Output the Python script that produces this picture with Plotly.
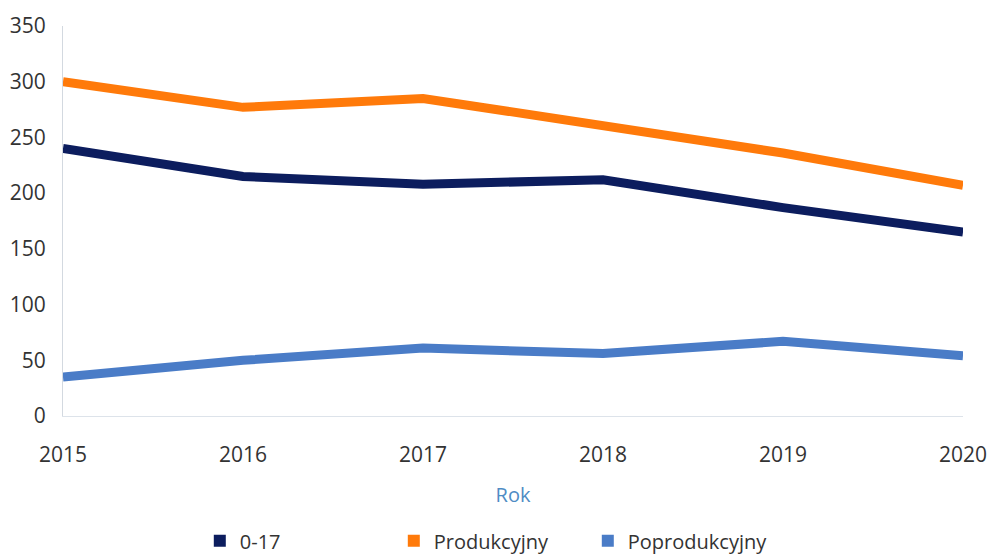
import plotly.graph_objects as go

years = [2015, 2016, 2017, 2018, 2019, 2020]
s_0_17 = [240, 215, 208, 212, 187, 165]
s_prod = [300, 277, 285, 261, 236, 207]
s_poprod = [35, 50, 61, 56, 67, 54]
names = ["0-17", "Produkcyjny", "Poprodukcyjny"]
colors = ["#0c1d5e", "#ff7a0a", "#4a7cc7"]
y_ticks = [0, 50, 100, 150, 200, 250, 300, 350]

fig = go.Figure()
for vals, name, col in zip([s_0_17, s_prod, s_poprod], names, colors):
    fig.add_trace(go.Scatter(x=years, y=vals, mode="lines", name=name,
                             line=dict(color=col, width=9), showlegend=False))
for name, col in zip(names, colors):
    fig.add_trace(go.Scatter(x=[None], y=[None], mode="markers", name=name,
                             marker=dict(symbol="square", size=12, color=col)))

fig.update_layout(
    width=987, height=559,
    margin=dict(l=63, r=24, t=26, b=143, autoexpand=False),
    paper_bgcolor="white", plot_bgcolor="white",
    font=dict(family="Open Sans", size=21, color="#333333"),
    xaxis=dict(range=[2015, 2020], tickvals=years, showgrid=False, zeroline=False,
               showline=True, linecolor="#dde3ea", linewidth=1, automargin=False,
               ticks="", ticklabelstandoff=20, ticklabeloverflow="allow",
               title=dict(text="Rok", font=dict(color="#4f8cc4", size=20), standoff=20)),
    yaxis=dict(range=[0, 350], tickvals=y_ticks, showgrid=False, zeroline=False,
               showline=True, linecolor="#d3d9e0", linewidth=1, automargin=False,
               ticks="", ticklabelstandoff=12),
    legend=dict(orientation="h", x=0.152, xanchor="left", y=-0.32, yanchor="middle",
                entrywidth=149, entrywidthmode="pixels", itemsizing="constant",
                font=dict(size=20, color="#333333")),
)
fig.write_html("out.html", config={"displayModeBar": False},
               post_script="document.body.style.margin='0';document.body.style.overflow='hidden';")
